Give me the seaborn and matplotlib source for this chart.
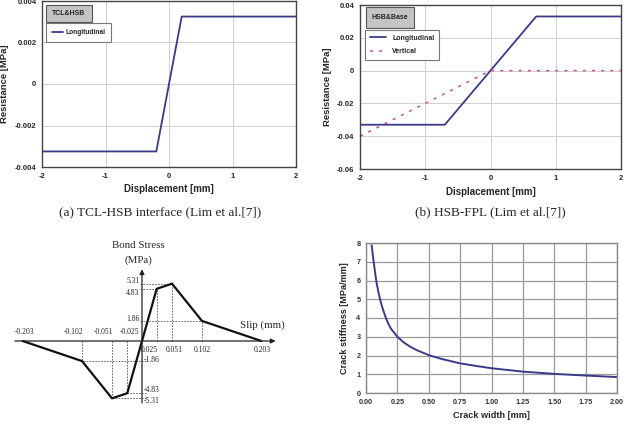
import numpy as np
import pandas as pd
import matplotlib
matplotlib.use('Agg')
import matplotlib.pyplot as plt
from matplotlib.patches import Rectangle
import seaborn as sns

# data
tcl_disp = [-2, -0.2, 0.2, 2]
tcl_long = [-0.00325, -0.00325, 0.00325, 0.00325]

hsb_disp = [-2, -0.7, 0.7, 2]
hsb_long = [-0.033, -0.033, 0.033, 0.033]
vert_disp = [-2, 0, 2]
vert_res = [-0.04, 0, 0]

slip = [-0.203, -0.102, -0.051, -0.025, 0.025, 0.051, 0.102, 0.203]
bond = [0, -1.86, -5.31, -4.83, 4.83, 5.31, 1.86, 0]

crack_w = [0.045, 0.06, 0.075, 0.086, 0.1, 0.112, 0.125, 0.139, 0.16, 0.179, 0.2,
           0.25, 0.3, 0.35, 0.4, 0.5, 0.6, 0.75, 0.9, 1.0, 1.25, 1.5, 1.75, 2.0]
crack_k = [7.88, 7.05, 6.3, 5.82, 5.35, 5.0, 4.68, 4.38, 3.98, 3.68, 3.42,
           3.0, 2.7, 2.48, 2.3, 2.02, 1.82, 1.58, 1.42, 1.32, 1.14, 1.02, 0.93, 0.85]

navy = '#3b3a8a'
pink = '#c8508a'

sns.set_style('white')
plt.rcParams['font.family'] = ['Liberation Sans', 'DejaVu Sans']

W, H = 630, 426
fig = plt.figure(figsize=(6.3, 4.26), dpi=100)


def px_axes(l, t, r, b):
    return fig.add_axes([l / W, 1 - b / H, (r - l) / W, (b - t) / H])


def style_box(ax):
    for s in ax.spines.values():
        s.set_color('#444444')
        s.set_linewidth(1.0)
    ax.grid(True, color='#cfcfcf', lw=0.7)
    ax.tick_params(length=0, labelsize=5.5, pad=4)
    for lab in ax.get_xticklabels() + ax.get_yticklabels():
        lab.set_fontweight('bold')


def title_box(ax, x0, y0, x1, y1, txt):
    ax.add_patch(Rectangle((x0, y0), x1 - x0, y1 - y0, transform=ax.transAxes,
                           facecolor='#c4c4c4', edgecolor='#555555', lw=0.8, zorder=5))
    ax.text((x0 + x1) / 2, (y0 + y1) / 2, txt, transform=ax.transAxes, ha='center',
            va='center', fontsize=5, fontweight='bold', zorder=6)


# (a) TCL-HSB
ax = px_axes(42, 1, 296, 167)
df_a = pd.DataFrame({'d': tcl_disp, 'r': tcl_long})
sns.lineplot(data=df_a, x='d', y='r', ax=ax, color=navy, lw=1.3, label='Longitudinal',
             sort=False, estimator=None)
ax.set_xlim(-2, 2)
ax.set_ylim(-0.004, 0.004)
ax.set_xticks([-2, -1, 0, 1, 2])
ax.set_xticklabels(['-2', '-1', '0', '1', '2'])
ax.set_yticks([-0.004, -0.002, 0, 0.002, 0.004])
ax.set_yticklabels(['-0.004', '-0.002', '0', '0.002', '0.004'])
style_box(ax)
ax.set_xlabel('Displacement [mm]', fontsize=7, fontweight='bold', labelpad=3)
ax.set_ylabel('Resistance [MPa]', fontsize=6.8, fontweight='bold', labelpad=4)
title_box(ax, 0.016, 0.873, 0.197, 0.976, 'TCL&HSB')
leg = ax.legend(loc='upper left', bbox_to_anchor=(0.016, 0.867), borderaxespad=0,
                fancybox=False, edgecolor='#777777', framealpha=1, handlelength=1.6,
                handletextpad=0.4, prop={'size': 4.8, 'weight': 'bold'}, borderpad=0.9)
leg.get_frame().set_linewidth(0.8)
fig.text(160 / W, 1 - 212 / H, '(a) TCL-HSB interface (Lim et al.[7])',
         family='Liberation Serif', fontsize=9.5, ha='center', va='center')

# (b) HSB-FPL
ax = px_axes(360, 5, 621, 169)
df_b = pd.DataFrame({'d': hsb_disp, 'r': hsb_long})
df_v = pd.DataFrame({'d': vert_disp, 'r': vert_res})
sns.lineplot(data=df_b, x='d', y='r', ax=ax, color=navy, lw=1.3, label='Longitudinal',
             sort=False, estimator=None)
sns.lineplot(data=df_v, x='d', y='r', ax=ax, color=pink, lw=1.1, label='Vertical',
             sort=False, estimator=None, linestyle=(0, (2, 4)))
ax.set_xlim(-2, 2)
ax.set_ylim(-0.06, 0.04)
ax.set_xticks([-2, -1, 0, 1, 2])
ax.set_xticklabels(['-2', '-1', '0', '1', '2'])
ax.set_yticks([-0.06, -0.04, -0.02, 0, 0.02, 0.04])
ax.set_yticklabels(['-0.06', '-0.04', '-0.02', '0', '0.02', '0.04'])
style_box(ax)
ax.set_xlabel('Displacement [mm]', fontsize=7, fontweight='bold', labelpad=4)
ax.set_ylabel('Resistance [MPa]', fontsize=6.8, fontweight='bold', labelpad=4)
title_box(ax, 0.023, 0.86, 0.207, 0.988, 'HSB&Base')
leg = ax.legend(loc='upper left', bbox_to_anchor=(0.019, 0.848), borderaxespad=0,
                fancybox=False, edgecolor='#777777', framealpha=1, handlelength=2.4,
                prop={'size': 5, 'weight': 'bold'}, borderpad=0.7, labelspacing=0.9)
leg.get_frame().set_linewidth(0.8)
fig.text(490 / W, 1 - 212 / H, '(b) HSB-FPL (Lim et al.[7])',
         family='Liberation Serif', fontsize=9.5, ha='center', va='center')

# (c) bond stress - slip diagram
ax = px_axes(0, 226, 315, 426)
ax.set_xlim(-142 / 588, (315 - 142) / 588)
ax.set_ylim(-(426 - 341) / 10.8, (341 - 226) / 10.8)
ax.axis('off')
serif = 'Liberation Serif'
ax.annotate('', xy=(0.232, 0), xytext=(-0.221, 0),
            arrowprops=dict(arrowstyle='-|>', color='#222222', lw=0.9, mutation_scale=7))
ax.annotate('', xy=(0, 6.9), xytext=(0, -6.0),
            arrowprops=dict(arrowstyle='-|>', color='#222222', lw=0.9, mutation_scale=7))
for s, b in zip(slip, bond):
    if b == 0:
        continue
    ax.plot([s, s], [0, b], ls=(0, (2, 1.5)), color='#555555', lw=0.6)
    x_end = 0.006 if s < 0 else -0.004
    ax.plot([x_end, s], [b, b], ls=(0, (2, 1.5)), color='#555555', lw=0.6)
df_c = pd.DataFrame({'s': slip, 'b': bond})
sns.lineplot(data=df_c, x='s', y='b', ax=ax, color='#111111', lw=1.6,
             sort=False, estimator=None)
# small label shifts so the numbers sit as in the figure
x_shift = {-0.203: 0.003, -0.102: -0.014, -0.051: -0.014, -0.025: 0.003,
           0.025: -0.012, 0.051: 0.004, 0.102: 0.0, 0.203: 0.001}
y_shift = {-1.86: 0.1, -5.31: -0.2, -4.83: 0.3, 1.86: 0.15, 4.83: -0.4, 5.31: 0.25}
for s, b in zip(slip, bond):
    lab = f'{s:.3f}'
    if s < 0:
        ax.text(s + x_shift[s], 0.45, lab, family=serif, fontsize=5.5, ha='center', va='bottom')
        if b != 0:
            ax.text(0.003, b + y_shift[b], f'{b:.2f}', family=serif, fontsize=5.5,
                    ha='left', va='center')
    else:
        ax.text(s + x_shift[s], -0.45, lab, family=serif, fontsize=5.5, ha='center', va='top')
        if b != 0:
            ax.text(-0.004, b + y_shift[b], f'{b:.2f}', family=serif, fontsize=5.5,
                    ha='right', va='center')
ax.text(-0.007, 8.8, 'Bond Stress', family=serif, fontsize=7.8, ha='center', va='center')
ax.text(-0.007, 7.5, '(MPa)', family=serif, fontsize=7.8, ha='center', va='center')
ax.text(0.205, 1.5, 'Slip (mm)', family=serif, fontsize=7.8, ha='center', va='center')

# (d) crack stiffness
ax = px_axes(366, 243, 617, 393)
df_d = pd.DataFrame({'w': crack_w, 'k': crack_k})
sns.lineplot(data=df_d, x='w', y='k', ax=ax, color=navy, lw=1.4, estimator=None)
ax.set_xlim(0, 2)
ax.set_ylim(0, 8)
ax.set_xticks(np.arange(0, 2.01, 0.25))
ax.set_xticklabels([f'{v:.2f}' for v in np.arange(0, 2.01, 0.25)])
ax.set_yticks(range(0, 9))
ax.grid(True, color='#9a9a9a', lw=0.9)
for s in ax.spines.values():
    s.set_color('#8a8a8a')
    s.set_linewidth(1.0)
ax.tick_params(length=0, labelsize=5.2, pad=4, colors='#333333')
for lab in ax.get_xticklabels() + ax.get_yticklabels():
    lab.set_fontweight('bold')
ax.set_xlabel('Crack width [mm]', fontsize=6.6, fontweight='bold', labelpad=4)
ax.set_ylabel('Crack stiffness [MPa/mm]', fontsize=6.6, fontweight='bold', labelpad=5)

fig.savefig('out.png', dpi=100)
